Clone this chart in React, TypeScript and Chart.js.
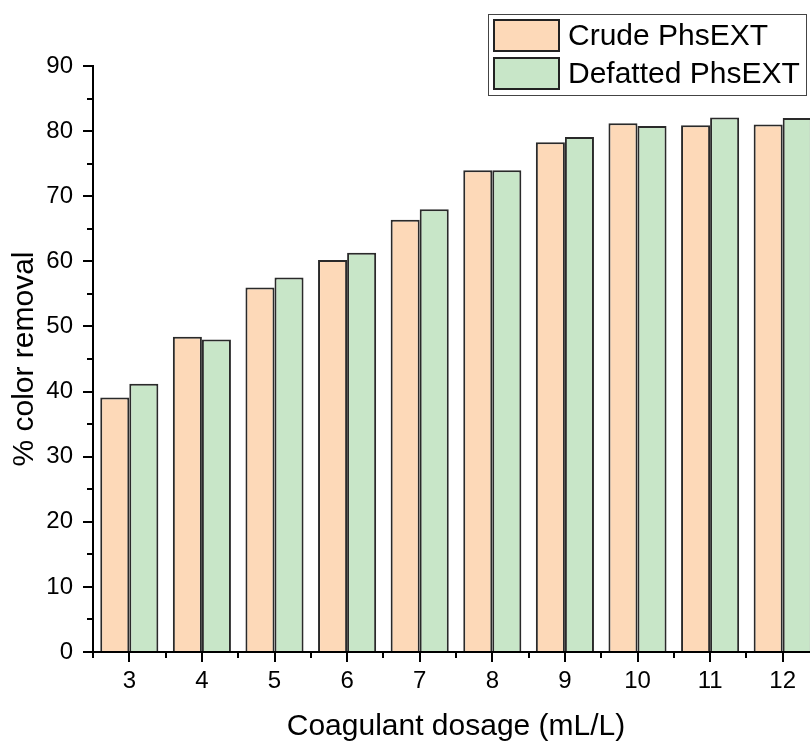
import React, { useEffect, useRef } from "react";
import { Chart, registerables } from "chart.js";

Chart.register(...registerables);

const categories = ["3", "4", "5", "6", "7", "8", "9", "10", "11", "12"];
const crude = [39.1, 48.4, 56.0, 60.2, 66.4, 74.0, 78.3, 81.2, 80.9, 81.0];
const defatted = [41.2, 48.0, 57.5, 61.3, 68.0, 74.0, 79.1, 80.8, 82.1, 82.0];
const seriesNames = ["Crude PhsEXT", "Defatted PhsEXT"];
const colors = ["#FDD9B8", "#C8E6C8"];
const FONT = "'Liberation Sans', Arial, sans-serif";

const extras = {
  id: "extras",
  afterDraw(chart: any) {
    const ctx = chart.ctx;
    const x = chart.scales.x;
    const y = chart.scales.y;
    const area = chart.chartArea;
    ctx.save();
    ctx.strokeStyle = "#000";
    ctx.lineWidth = 2;
    for (let v = 5; v < 90; v += 10) {
      const py = Math.round(y.getPixelForValue(v));
      ctx.beginPath();
      ctx.moveTo(area.left - 6, py);
      ctx.lineTo(area.left, py);
      ctx.stroke();
    }
    const half = (x.getPixelForValue(1) - x.getPixelForValue(0)) / 2;
    for (let i = 0; i <= categories.length; i++) {
      const px = Math.round(x.getPixelForValue(i) - half);
      ctx.beginPath();
      ctx.moveTo(px, area.bottom);
      ctx.lineTo(px, area.bottom + 6);
      ctx.stroke();
    }
    const lx = 488, ly = 14, lw = 318, lh = 81;
    ctx.fillStyle = "#fff";
    ctx.fillRect(lx, ly, lw, lh);
    ctx.strokeStyle = "#444";
    ctx.lineWidth = 1;
    ctx.strokeRect(lx + 0.5, ly + 0.5, lw, lh);
    for (let i = 0; i < 2; i++) {
      const sy = ly + 5 + i * 38;
      ctx.fillStyle = colors[i];
      ctx.fillRect(493, sy, 67, 33);
      ctx.strokeStyle = "#222";
      ctx.lineWidth = 2;
      ctx.strokeRect(494, sy + 1, 65, 31);
      ctx.fillStyle = "#000";
      ctx.font = `30px ${FONT}`;
      ctx.textBaseline = "middle";
      ctx.textAlign = "left";
      ctx.fillText(seriesNames[i], 568, sy + 18);
    }
    ctx.restore();
  },
};

export default function App() {
  const ref = useRef<HTMLCanvasElement | null>(null);
  useEffect(() => {
    if (!ref.current) return;
    const chart = new Chart(ref.current, {
      type: "bar",
      data: {
        labels: categories,
        datasets: [
          { label: seriesNames[0], data: crude, backgroundColor: colors[0], borderColor: "#2a2a2a", borderWidth: 2 },
          { label: seriesNames[1], data: defatted, backgroundColor: colors[1], borderColor: "#2a2a2a", borderWidth: 2 },
        ],
      },
      options: {
        animation: false,
        responsive: false,
        maintainAspectRatio: false,
        layout: { padding: { left: 3, top: 66, bottom: 0, right: 11 } },
        datasets: { bar: { categoryPercentage: 0.8, barPercentage: 1.0 } },
        plugins: { legend: { display: false }, tooltip: { enabled: false } },
        scales: {
          x: {
            afterFit: (s: any) => { s.height = 91; },
            grid: { display: true, drawOnChartArea: false, offset: false, tickLength: 10, color: "#000", lineWidth: 2 },
            border: { display: true, color: "#000", width: 2 },
            ticks: { color: "#000", font: { size: 24, family: FONT }, padding: 5 },
            title: { display: true, text: "Coagulant dosage (mL/L)", color: "#000", font: { size: 30, family: FONT, lineHeight: 1.1 }, padding: { top: 0, bottom: 0 } },
          },
          y: {
            min: 0,
            max: 90,
            afterFit: (s: any) => { s.width = 90; },
            grid: { display: true, drawOnChartArea: false, tickLength: 10, color: "#000", lineWidth: 2 },
            border: { display: true, color: "#000", width: 2 },
            ticks: { stepSize: 10, color: "#000", font: { size: 24, family: FONT }, padding: 10 },
            title: { display: true, text: "% color removal", color: "#000", font: { size: 30, family: FONT }, padding: { top: 4, bottom: 0 } },
          },
        },
      },
      plugins: [extras],
    });
    return () => chart.destroy();
  }, []);
  return (
    <div style={{ position: "fixed", left: 0, top: 0, width: 810, height: 743, overflow: "hidden", background: "#fff" }}>
      <canvas ref={ref} width={830} height={743} style={{ width: 830, height: 743, display: "block" }} />
    </div>
  );
}
